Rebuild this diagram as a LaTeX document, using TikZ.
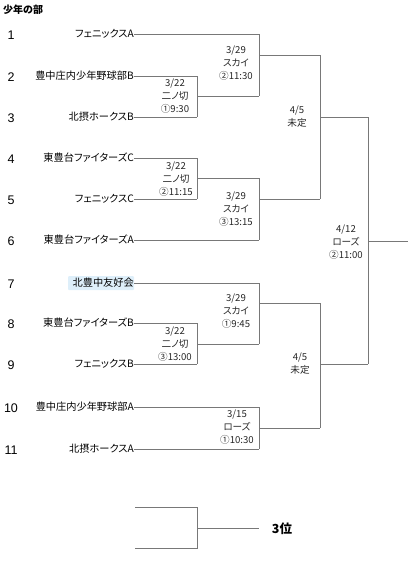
\documentclass[tikz,border=0pt]{standalone}
\usepackage{fontspec}
\setmainfont{Noto Sans CJK JP}[RawFeature={+palt}]
\newfontfamily\numfont{Liberation Sans}
\definecolor{hl}{RGB}{222,239,250}
\definecolor{lncol}{RGB}{120,120,120}
\begin{document}
\begin{tikzpicture}[x=1pt,y=-1pt,
  ln/.style={draw=lncol, line width=0.8pt},
  team/.style={anchor=east, inner sep=0pt, font=\fontsize{10.2}{12}\selectfont},
  num/.style={inner sep=0pt, font=\numfont\fontsize{12.5}{14}\selectfont},
  info/.style={inner sep=0pt, align=center, text=black!85, font=\fontsize{9.6}{13}\selectfont},
  ttl/.style={anchor=west, inner sep=0pt, font=\bfseries\fontsize{10}{12}\selectfont}]
\useasboundingbox (0,0) rectangle (408,568);

\node[ttl] (title) at (3,10) {少年の部};

% highlight behind team 7
\fill[hl, rounded corners=1pt] (68,276) rectangle (134,290);

% numbers and teams
\foreach \i/\y/\t in {1/34/フェニックスA, 2/76/豊中庄内少年野球部B, 3/117/北摂ホークスB,
  4/158/東豊台ファイターズC, 5/199/フェニックスC, 6/240/東豊台ファイターズA,
  7/283/北豊中友好会, 8/323/東豊台ファイターズB, 9/364/フェニックスB,
  10/407/豊中庄内少年野球部A, 11/449/北摂ホークスA}{
  \node[num] (n\i) at (11,\y+1) {\i};
  \node[team] (t\i) at (134,\y) {\t};
}

% bracket coordinates
\coordinate (a1) at (259,34);
\coordinate (a2) at (197,76);  \coordinate (a3) at (197,117);
\coordinate (a4) at (197,158); \coordinate (a5) at (197,199);
\coordinate (a6) at (259,240); \coordinate (a7) at (259,283);
\coordinate (a8) at (197,323); \coordinate (a9) at (197,364);
\coordinate (a10) at (259,407); \coordinate (a11) at (259,449);

\foreach \i in {1,...,11}{ \draw[ln] (t\i.east) -- (a\i); }

% round 1
\coordinate (r1a) at (259,96);  \coordinate (r1b) at (259,178); \coordinate (r1c) at (259,344);
\draw[ln] (a2) -- (a3);  \draw[ln] (197,96) -- (r1a);
\draw[ln] (a4) -- (a5);  \draw[ln] (197,178) -- (r1b);
\draw[ln] (a8) -- (a9);  \draw[ln] (197,344) -- (r1c);

% round 2
\coordinate (r2a) at (320,55);  \coordinate (r2b) at (320,199);
\coordinate (r2c) at (320,303); \coordinate (r2d) at (320,428);
\draw[ln] (a1) -- (r1a);  \draw[ln] (259,55) -- (r2a);
\draw[ln] (r1b) -- (a6);  \draw[ln] (259,199) -- (r2b);
\draw[ln] (a7) -- (r1c);  \draw[ln] (259,303) -- (r2c);
\draw[ln] (a10) -- (a11); \draw[ln] (259,428) -- (r2d);

% round 3
\coordinate (r3a) at (368,117); \coordinate (r3b) at (368,364);
\draw[ln] (r2a) -- (r2b); \draw[ln] (320,117) -- (r3a);
\draw[ln] (r2c) -- (r2d); \draw[ln] (320,364) -- (r3b);

% final
\coordinate (fin) at (408,241);
\draw[ln] (r3a) -- (r3b); \draw[ln] (368,241) -- (fin);

% info texts
\node[info] (g1) at (175,96)  {3/22\\二ノ切\\①9:30};
\node[info] (g2) at (176,179) {3/22\\二ノ切\\②11:15};
\node[info] (g3) at (175,344) {3/22\\二ノ切\\③13:00};
\node[info] (h1) at (236,63)  {3/29\\スカイ\\②11:30};
\node[info] (h2) at (236,209) {3/29\\スカイ\\③13:15};
\node[info] (h3) at (236,311) {3/29\\スカイ\\①9:45};
\node[info] (h4) at (237,427) {3/15\\ローズ\\①10:30};
\node[info] (s1) at (297,117) {4/5\\未定};
\node[info] (s2) at (300,364) {4/5\\未定};
\node[info] (f1) at (346,242) {4/12\\ローズ\\②11:00};

% third place
\coordinate (b1) at (135,507); \coordinate (b2) at (135,548);
\coordinate (b1e) at (197,507); \coordinate (b2e) at (197,548);
\coordinate (bo) at (197,528);
\node[inner sep=0pt, font=\bfseries\fontsize{12.5}{14}\selectfont] (third) at (282,529) {3位};
\draw[ln] (b1) -- (b1e) -- (b2e) -- (b2);
\draw[ln] (bo) -- (259,528);
\end{tikzpicture}
\end{document}
